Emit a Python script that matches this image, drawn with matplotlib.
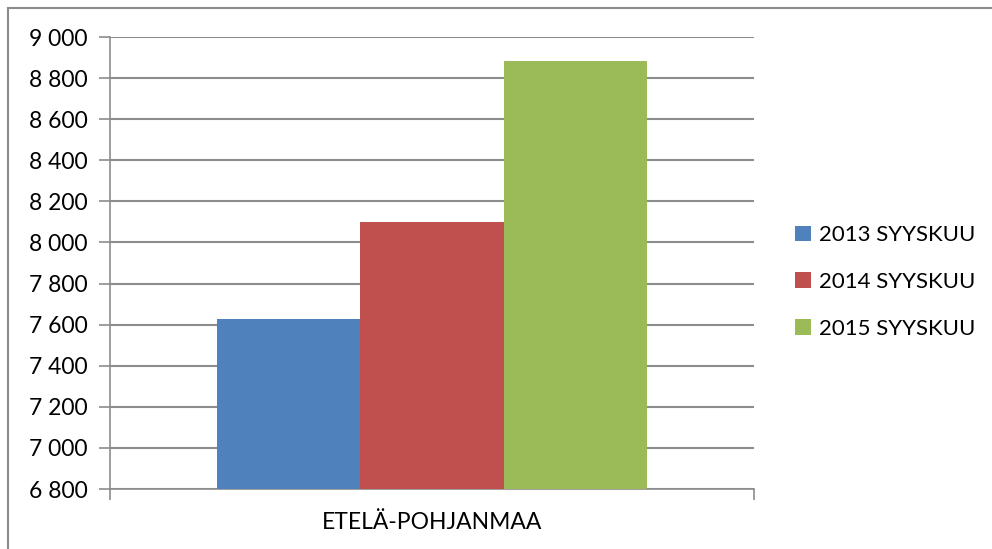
import matplotlib
matplotlib.use("Agg")
from matplotlib import pyplot as plt
from matplotlib.lines import Line2D
from matplotlib.ticker import FuncFormatter

categories = ["ETELÄ-POHJANMAA"]
series_names = ["2013 SYYSKUU", "2014 SYYSKUU", "2015 SYYSKUU"]
values = [7627, 8100, 8883]
colors = ["#4F81BD", "#C0504D", "#9BBB59"]
y_ticks = list(range(6800, 9001, 200))

plt.rcParams['font.family'] = ['Lato', 'DejaVu Sans']
plt.rcParams['font.size'] = 16.5

fig = plt.figure(figsize=(9.92, 5.49), dpi=100)
ax = fig.add_axes([110 / 992, 1 - 489 / 549, 644 / 992, 452 / 549])

n = len(series_names)
width = 1 / (n + 1.5)
for i, (name, v, c) in enumerate(zip(series_names, values, colors)):
    x = (i - (n - 1) / 2) * width
    ax.bar(x, v - 6800, bottom=6800, width=width, color=c, label=name, zorder=3)

ax.set_xlim(-0.5, 0.5)
ax.set_ylim(6800, 9000)
ax.set_yticks(y_ticks)
ax.yaxis.set_major_formatter(FuncFormatter(lambda v, p: f"{int(v):,}".replace(",", " ")))
ax.grid(axis="y", color="#8C8C8C", linewidth=1.5, zorder=0)

ax.set_xticks([-0.5, 0.5])
ax.set_xticklabels(["", ""])
ax.text(0.5, -0.075, categories[0], transform=ax.transAxes, ha="center", va="center")

for s in ["top", "right"]:
    ax.spines[s].set_visible(False)
for s in ["left", "bottom"]:
    ax.spines[s].set_color("#8C8C8C")
    ax.spines[s].set_linewidth(1.2)
ax.tick_params(axis="both", colors="#8C8C8C", length=8, width=1.2, labelcolor="black")
ax.tick_params(axis="y", pad=8)

ax.legend(loc="center left", bbox_to_anchor=(775 / 992, 1 - 282 / 549), bbox_transform=fig.transFigure,
          frameon=False, fontsize=16, handlelength=0.7, handleheight=0.7, labelspacing=1.2,
          handletextpad=0.4)

# chart area border
fig.add_artist(Line2D([8 / 992, 8 / 992], [0, 1 - 8 / 549], color="#8C8C8C", linewidth=1.5))
fig.add_artist(Line2D([8 / 992, 1], [1 - 8 / 549, 1 - 8 / 549], color="#8C8C8C", linewidth=1.5))

plt.savefig("out.png", dpi=100)
